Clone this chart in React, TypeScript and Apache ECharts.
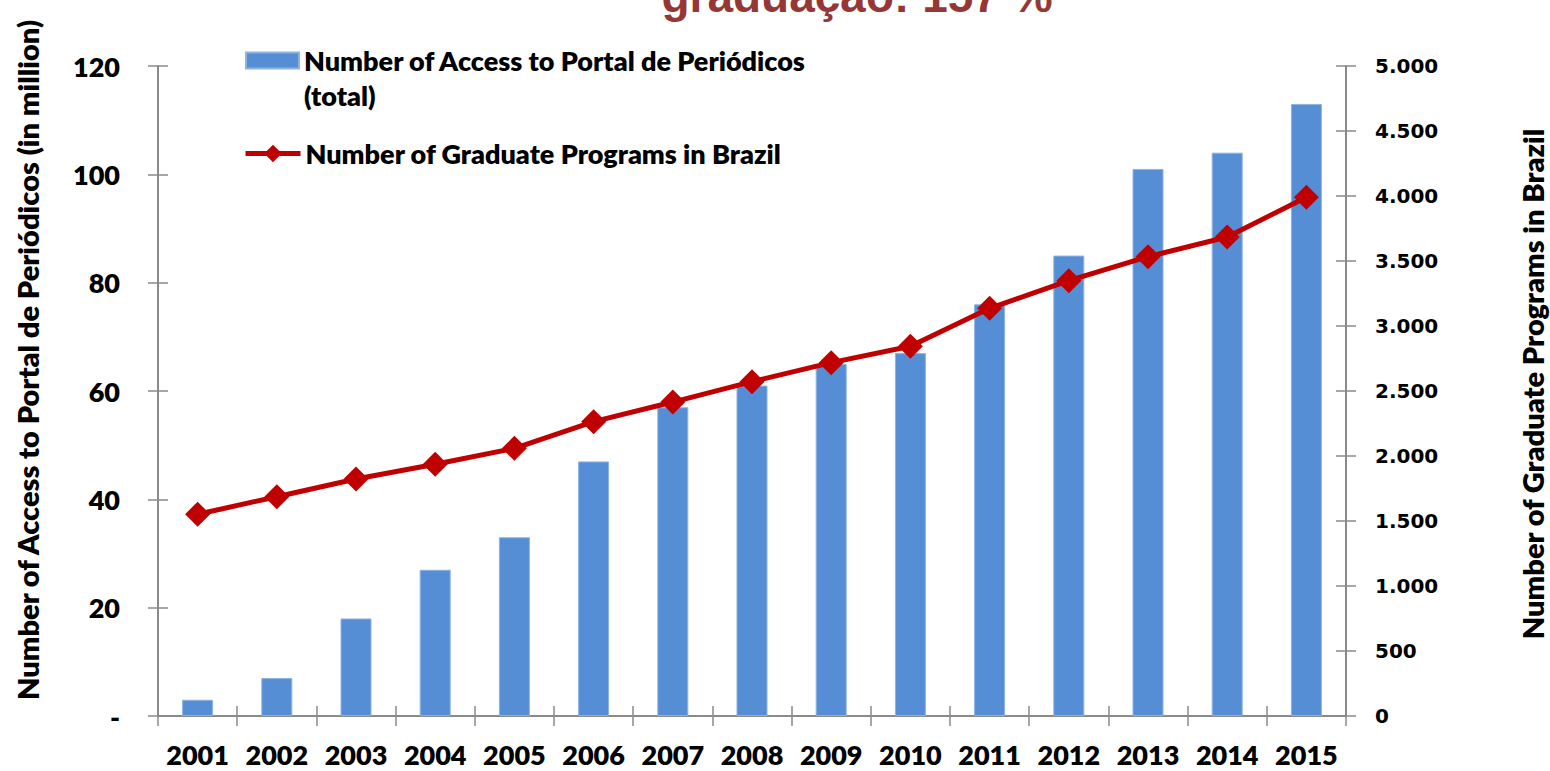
import React, { useEffect, useRef } from "react";
import * as echarts from "echarts";

const years = ["2001", "2002", "2003", "2004", "2005", "2006", "2007", "2008", "2009", "2010", "2011", "2012", "2013", "2014", "2015"];
const accessMillions = [3, 7, 18, 27, 33, 47, 57, 61, 65, 67, 76, 85, 101, 104, 113];
const graduatePrograms = [1552, 1687, 1823, 1936, 2059, 2264, 2415, 2572, 2718, 2844, 3136, 3349, 3533, 3685, 3990];

const titleText = "graduação: 157 %";
const barName = "Number of Access to Portal de Periódicos (total)";
const barLegendLines = ["Number of Access to Portal de Periódicos", "(total)"];
const lineName = "Number of Graduate Programs in Brazil";
const leftAxisName = "Number of Access to Portal de Periódicos (in million)";
const rightAxisName = "Number of Graduate Programs in Brazil";

const LEFT_MAX = 120;
const LEFT_STEP = 20;
const RIGHT_MAX = 5000;
const RIGHT_STEP = 500;

const AXIS_GRAY = "#8a8a8a";
const LABEL_FONT = "Lato";
const LABEL_WEIGHT = 800;

function fmtThousands(v: number): string {
  if (v < 1000) return String(v);
  return Math.floor(v / 1000) + "." + String(v % 1000).padStart(3, "0");
}

export default function App() {
  const ref = useRef<HTMLDivElement>(null);

  useEffect(() => {
    if (!ref.current) return;
    const chart = echarts.init(ref.current, undefined, { renderer: "svg" });

    const tickStyle = { color: AXIS_GRAY, width: 1.5 };

    chart.setOption({
      animation: false,
      backgroundColor: "#ffffff",
      grid: { left: 158, right: 204, top: 66, bottom: 55, containLabel: false },
      graphic: [
        {
          type: "text",
          x: 857,
          y: -4,
          style: {
            text: titleText,
            font: "bold 46px 'Liberation Sans', Arial, sans-serif",
            fill: "#953735",
            textAlign: "center",
            textVerticalAlign: "middle",
          },
        },
        {
          type: "text",
          x: 27,
          y: 360,
          rotation: Math.PI / 2,
          style: {
            text: leftAxisName,
            font: `${LABEL_WEIGHT} 29px ${LABEL_FONT}`,
            fill: "#000000",
            textAlign: "center",
            textVerticalAlign: "middle",
          },
        },
        {
          type: "text",
          x: 1532,
          y: 384,
          rotation: Math.PI / 2,
          style: {
            text: rightAxisName,
            font: `${LABEL_WEIGHT} 29px ${LABEL_FONT}`,
            fill: "#000000",
            textAlign: "center",
            textVerticalAlign: "middle",
          },
        },
      ],
      legend: [
        {
          data: [barName],
          left: 245,
          top: 8,
          padding: 0,
          icon: "rect",
          itemWidth: 53,
          itemHeight: 16,
          selectedMode: false,
          formatter: () => "\n" + barLegendLines.join("\n"),
          textStyle: { fontFamily: LABEL_FONT, fontWeight: LABEL_WEIGHT, fontSize: 27, color: "#000", lineHeight: 35 },
        },
        {
          data: [lineName],
          left: 243,
          top: 140,
          padding: 0,
          itemWidth: 55,
          itemHeight: 22,
          selectedMode: false,
          lineStyle: { width: 5 },
          textStyle: { fontFamily: LABEL_FONT, fontWeight: LABEL_WEIGHT, fontSize: 27, color: "#000", lineHeight: 27 },
        },
      ],
      xAxis: [
        {
          type: "category",
          data: years,
          position: "bottom",
          axisLine: { show: true, lineStyle: { color: AXIS_GRAY, width: 2 } },
          axisTick: { show: true, inside: false, length: 10, lineStyle: tickStyle },
          axisLabel: {
            margin: 28,
            fontFamily: LABEL_FONT,
            fontWeight: LABEL_WEIGHT,
            fontSize: 27,
            lineHeight: 21,
            color: "#000",
            interval: 0,
          },
          splitLine: { show: false },
        },
        {
          type: "category",
          data: years,
          position: "bottom",
          axisLine: { show: false },
          axisTick: { show: true, inside: true, length: 10, lineStyle: tickStyle },
          axisLabel: { show: false },
          splitLine: { show: false },
        },
      ],
      yAxis: [
        {
          type: "value",
          position: "left",
          min: 0,
          max: LEFT_MAX,
          interval: LEFT_STEP,
          axisLine: { show: true, lineStyle: { color: AXIS_GRAY, width: 2 } },
          axisTick: { show: true, inside: false, length: 10, lineStyle: tickStyle },
          axisLabel: {
            margin: 38,
            fontFamily: LABEL_FONT,
            fontWeight: LABEL_WEIGHT,
            fontSize: 27,
            color: "#000",
            formatter: (v: number) => (v === 0 ? "-" : String(v)),
          },
          splitLine: { show: false },
        },
        {
          type: "value",
          position: "right",
          min: 0,
          max: RIGHT_MAX,
          interval: RIGHT_STEP,
          axisLine: { show: true, lineStyle: { color: AXIS_GRAY, width: 2 } },
          axisTick: { show: true, inside: false, length: 10, lineStyle: tickStyle },
          axisLabel: {
            margin: 29,
            fontFamily: "'DejaVu Sans', Verdana, sans-serif",
            fontWeight: "bold",
            fontSize: 20,
            color: "#000",
            formatter: (v: number) => fmtThousands(v),
          },
          splitLine: { show: false },
        },
        {
          type: "value",
          position: "left",
          min: 0,
          max: LEFT_MAX,
          interval: LEFT_STEP,
          axisLine: { show: false },
          axisTick: { show: true, inside: true, length: 10, lineStyle: tickStyle },
          axisLabel: { show: false },
          splitLine: { show: false },
        },
        {
          type: "value",
          position: "right",
          min: 0,
          max: RIGHT_MAX,
          interval: RIGHT_STEP,
          axisLine: { show: false },
          axisTick: { show: true, inside: true, length: 10, lineStyle: tickStyle },
          axisLabel: { show: false },
          splitLine: { show: false },
        },
      ],
      series: [
        {
          name: barName,
          type: "bar",
          xAxisIndex: 0,
          yAxisIndex: 0,
          data: accessMillions,
          barWidth: 31,
          itemStyle: { color: "#558ED5", borderColor: "#8DB3E2", borderWidth: 1 },
          z: 2,
        },
        {
          name: lineName,
          type: "line",
          xAxisIndex: 0,
          yAxisIndex: 1,
          data: graduatePrograms,
          symbol: "diamond",
          symbolSize: 25,
          lineStyle: { color: "#C00000", width: 5 },
          itemStyle: { color: "#C00000" },
          z: 3,
        },
      ],
    });

    return () => chart.dispose();
  }, []);

  return (
    <div
      ref={ref}
      style={{ position: "fixed", left: 0, top: 0, width: 1550, height: 771, background: "#fff" }}
    />
  );
}
